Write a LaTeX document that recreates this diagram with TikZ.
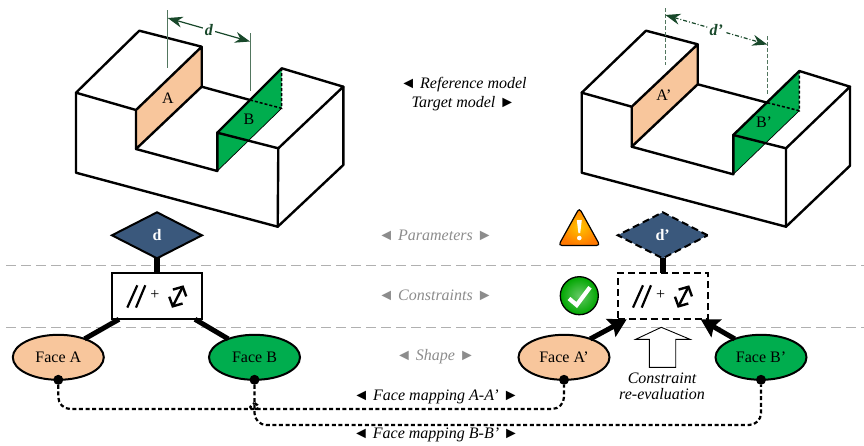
\documentclass[tikz,border=0pt]{standalone}
\usepackage{fontspec}
\setmainfont{Liberation Serif}
\usepackage{xcolor}
\usepackage{tikz}
\usetikzlibrary{shapes.geometric, arrows.meta, positioning}
\definecolor{peach}{RGB}{248,198,156}
\definecolor{facegreen}{RGB}{0,173,78}
\definecolor{navy}{RGB}{58,88,124}
\definecolor{dimgreen}{RGB}{24,72,42}
\definecolor{rowgray}{RGB}{176,176,176}
\definecolor{labelgray}{RGB}{140,140,140}
\newcommand{\textsz}{\fontsize{16}{18}\selectfont}
\tikzstyle{edge} = [line width=2.4pt, line join=round, line cap=round]
\tikzstyle{hidden} = [line width=1.5pt, dash pattern=on 3pt off 2pt]
\tikzstyle{parameter} = [diamond, minimum width=90pt, minimum height=46pt, inner sep=0pt, outer sep=0pt, text centered, text=white, font=\textsz\bfseries, draw=black, line width=2pt, fill=navy]
\tikzstyle{constraint} = [rectangle, minimum width=90pt, minimum height=46pt, inner sep=0pt, outer sep=0pt, draw=black, line width=2pt, fill=white]
\tikzstyle{face} = [ellipse, minimum width=91pt, minimum height=45pt, inner sep=0pt, outer sep=0pt, text centered, draw=black, line width=2pt]
\tikzstyle{mapdot} = [circle, fill=black, minimum size=10pt, inner sep=0pt, outer sep=0pt]
\tikzstyle{changed} = [dash pattern=on 7pt off 4pt]
\tikzstyle{link} = [line width=5pt]
\tikzstyle{stem} = [line width=6pt]
\tikzstyle{arrow} = [line width=5pt, -{Stealth[length=18pt, width=20pt, inset=3pt]}]
\tikzstyle{mapping} = [line width=2.2pt, dash pattern=on 4pt off 2.6pt, rounded corners=12pt]
\tikzstyle{dimline} = [draw=dimgreen, line width=1.2pt, {Stealth[length=15pt, width=11pt]}-{Stealth[length=15pt, width=11pt]}]
\tikzstyle{dimtext} = [fill=white, inner sep=2pt, text=dimgreen, font=\textsz\bfseries\itshape]
\tikzstyle{extline} = [draw=dimgreen!75, line width=0.9pt]
\tikzstyle{rowline} = [draw=rowgray, line width=1pt, dash pattern=on 10pt off 5pt]
\tikzstyle{rowlabel} = [font=\textsz\itshape, text=labelgray, inner sep=0pt]
\tikzstyle{note} = [font=\textsz\itshape, inner sep=0pt]
\newcommand{\constraintmark}[1]{
  \draw [line width=2.2pt] ([shift={(-29.7,11.3)}]#1.center) -- ([shift={(-19.7,-11)}]#1.center);
  \draw [line width=2.2pt] ([shift={(-21,11.3)}]#1.center) -- ([shift={(-11.7,-11)}]#1.center);
  \node (#1plus) at ([shift={(-2,-1)}]#1.center) {+};
  \draw [line width=2.4pt, {Straight Barb[length=7pt, width=15pt]}-{Straight Barb[length=7pt, width=15pt]}] ([shift={(15,11.5)}]#1.center) -- ([shift={(26.5,-11)}]#1.center);
}

\begin{document}
\begin{tikzpicture}[x=1pt, y=-1pt, node distance=61pt, font=\textsz]
\useasboundingbox (0,0) rectangle (864,445);

% Row separators
\coordinate (rowTopL) at (6,265.3);
\coordinate (rowTopR) at (864,265.3);
\coordinate (rowLowL) at (6,327.3);
\coordinate (rowLowR) at (864,327.3);
\draw [rowline] (rowTopL) -- (rowTopR);
\draw [rowline] (rowLowL) -- (rowLowR);

% Reference model
\fill [peach] (136,110) -- (201.7,46.7) -- (201.7,86.7) -- (136,149) -- cycle;
\fill [facegreen] (217.3,132.7) -- (281.7,68.3) -- (281.7,108.3) -- (217.3,171) -- cycle;
\draw [edge] (136,110) -- (76,92.7) -- (139.3,30.7) -- (201.7,46.7) -- (136,110) -- (136,149) -- (201.7,86.7) -- (201.7,46.7);
\draw [edge] (76,92.7) -- (76,172.7) -- (277.7,226.7) -- (278.3,148.3) -- (217.3,132.7) -- (217.3,171) -- (136,149);
\draw [edge] (201.7,86.7) -- (250,100);
\draw [edge] (217.3,132.7) -- (281.7,68.3) -- (343.3,86.7) -- (278.3,148.3);
\draw [edge] (343.3,86.7) -- (343.3,165) -- (277.7,226.7);
\draw [line width=0.7pt] (217.3,171) -- (281.7,108.3);
\draw [hidden] (250,100) -- (281.7,108.3) -- (281.7,68.3);
\node (labelA) at (168,98) {A};
\node (labelB) at (249,119) {B};

% Target model
\fill [peach] (631.7,106.7) -- (697.7,44.3) -- (697.7,84.3) -- (631.7,146.7) -- cycle;
\fill [facegreen] (733.3,135) -- (799.3,71) -- (799.3,110.7) -- (733.3,174.3) -- cycle;
\draw [edge] (631.7,106.7) -- (581.7,92.7) -- (646,30.7) -- (697.7,44.3) -- (631.7,106.7) -- (631.7,146.7) -- (697.7,84.3) -- (697.7,44.3);
\draw [edge] (581.7,92.7) -- (581.7,172.7) -- (786,226.7) -- (786,148.3) -- (733.3,135) -- (733.3,174.3) -- (631.7,146.7);
\draw [edge] (697.7,84.3) -- (767.3,102.7);
\draw [edge] (733.3,135) -- (799.3,71) -- (850,86.7) -- (786,148.3);
\draw [edge] (850,86.7) -- (850,165.7) -- (786,226.7);
\draw [line width=0.7pt] (733.3,174.3) -- (799.3,110.7);
\draw [hidden] (767.3,102.7) -- (799.3,110.7) -- (799.3,71);
\node (labelAt) at (664,95) {A’};
\node (labelBt) at (764,121.7) {B’};

% Dimensions
\coordinate (dimAtop) at (167.7,10);
\coordinate (dimAlow) at (167.7,68);
\coordinate (dimBtop) at (250,33);
\coordinate (dimBlow) at (250,91);
\coordinate (dimAtip) at (167.7,18);
\coordinate (dimBtip) at (250,41.5);
\draw [extline] (dimAtop) -- (dimAlow);
\draw [extline] (dimBtop) -- (dimBlow);
\draw [dimline] (dimAtip) -- node[dimtext] {d} (dimBtip);

\coordinate (dimAttop) at (665.3,8);
\coordinate (dimAtlow) at (665.3,65);
\coordinate (dimBttop) at (767.3,36);
\coordinate (dimBtlow) at (767.3,95);
\coordinate (dimAttip) at (665.3,15);
\coordinate (dimBttip) at (767.3,44.5);
\draw [extline, dash pattern=on 4pt off 2pt] (dimAttop) -- (dimAtlow);
\draw [extline, dash pattern=on 4pt off 2pt] (dimBttop) -- (dimBtlow);
\draw [dimline, dash pattern=on 4pt off 2pt on 1pt off 2pt] (dimAttip) -- node[dimtext] {d’} (dimBttip);

% Reference side nodes
\node (paramA) [parameter] at (157,235.3) {d};
\node (consA) [constraint, below of=paramA] {};
\node (faceA) [face, fill=peach, below of=consA, xshift=-98.7pt] {Face A};
\node (faceB) [face, fill=facegreen, below of=consA, xshift=97.5pt] {Face B};
\constraintmark{consA}

% Target side nodes
\node (paramT) [parameter, changed] at (662.7,235.3) {d’};
\node (consT) [constraint, changed, below of=paramT] {};
\node (faceAt) [face, fill=peach, below of=consT, xshift=-98.7pt] {Face A’};
\node (faceBt) [face, fill=facegreen, below of=consT, xshift=98.3pt] {Face B’};
\constraintmark{consT}

% Links
\draw [stem] (paramA) -- (consA);
\draw [link] (faceA.35) -- ([xshift=7pt]consA.south west);
\draw [link] (faceB.145) -- ([xshift=-7pt]consA.south east);
\draw [stem] (paramT) -- (consT);
\draw [arrow] (faceAt.35) -- ([xshift=9pt]consT.south west);
\draw [arrow] (faceBt.145) -- ([xshift=-7pt]consT.south east);

% Re-evaluation arrow
\draw [draw=black, line width=0.9pt, fill=white] (661.3,327.3) -- (690,339.3) -- (675.7,339.3) -- (675.7,367.3) -- (649.3,367.3) -- (649.3,339.3) -- (635.7,339.3) -- cycle;
\node (reevalA) [note] at (662,378.5) {Constraint};
\node (reevalB) [note, below of=reevalA, yshift=45pt] {re-evaluation};

% Status icons
\path [draw=black, line width=1.2pt, rounded corners=3.5pt, inner color=orange!45!yellow, outer color=orange!95!red] (579.3,208) -- (600,245.5) -- (558.5,245.5) -- cycle;
\fill [white] (576.8,220) -- (581.8,220) -- (580.2,233) -- (578.4,233) -- cycle;
\fill [white] (579.3,238) circle (2.3);
\node (okIcon) [circle, draw=black, line width=1.3pt, minimum size=38pt, inner sep=0pt, inner color=green!65!black!60!white, outer color=green!65!black] at (579.3,295.7) {};
\draw [white, line width=4.2pt] (569,298.5) -- (576.7,305) -- (590,287.3);

% Face mapping
\node (dotA) [mapdot] at (faceA.south) {};
\node (dotB) [mapdot] at (faceB.south) {};
\node (dotAt) [mapdot] at (faceAt.south) {};
\node (dotBt) [mapdot] at (faceBt.south) {};
\coordinate (mapA) at (0,409);
\coordinate (mapB) at (0,425);
\coordinate (bump) at (254.5,403);
\draw [mapping] (dotA) |- ([xshift=-12pt]bump |- mapA) to[out=0, in=-150] (bump);
\draw [mapping] (bump) to[out=-30, in=180] ([xshift=12pt]bump |- mapA) -| (dotAt);
\draw [mapping] (dotB) -- (dotB |- mapB) -- (dotBt |- mapB) -- (dotBt);

% Text
\node (refText) [note] at (463.5,85) {◄ Reference model};
\node (tarText) [note, below of=refText, yshift=42pt] {Target model ►};
\node (rowParam) [rowlabel] at (435.5,235) {◄ Parameters ►};
\node (rowCons) [rowlabel] at (435.5,295) {◄ Constraints ►};
\node (rowShape) [rowlabel] at (435.5,356.7) {◄ Shape ►};
\node (mapTextA) [note] at (436,397.3) {◄ Face mapping A-A’ ►};
\node (mapTextB) [note] at (436,435) {◄ Face mapping B-B’ ►};
\end{tikzpicture}
\end{document}
